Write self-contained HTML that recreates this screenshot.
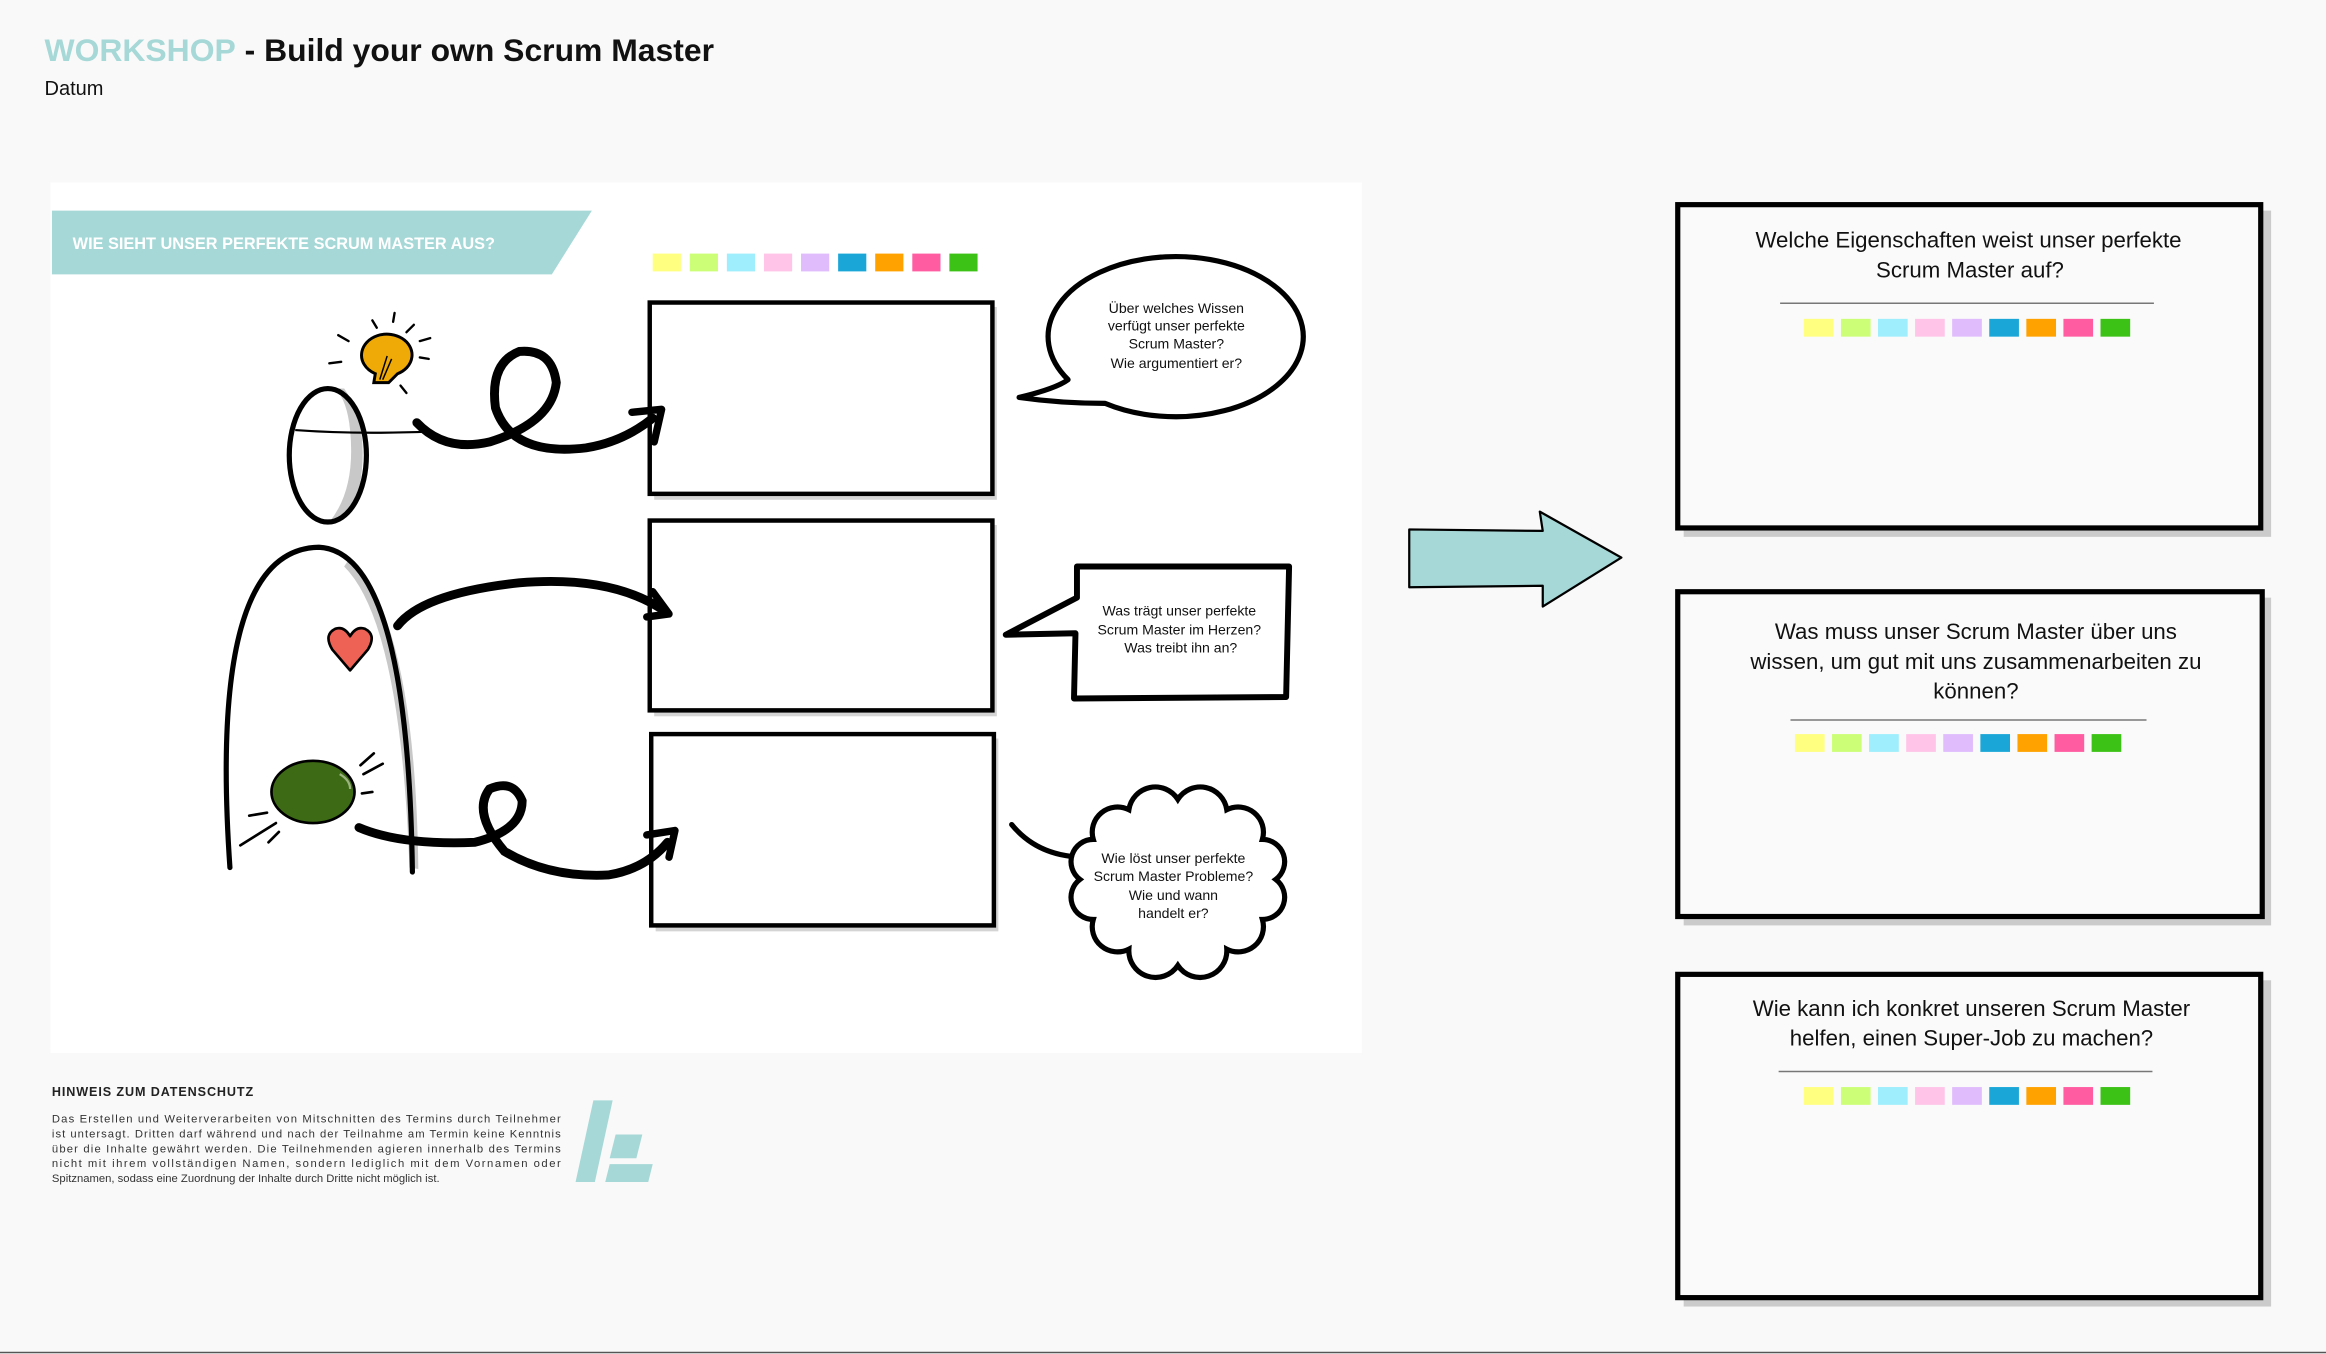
<!DOCTYPE html>
<html><head><meta charset="utf-8"><style>
html,body{margin:0;padding:0;background:#f9f9f9;}
svg{display:block;}
text{font-family:"Liberation Sans",sans-serif;}
</style></head><body>
<svg width="2326" height="1354" viewBox="0 0 1568 913" preserveAspectRatio="none" xmlns="http://www.w3.org/2000/svg">
<defs>
<g id="sq">
<rect x="0" y="0" width="20" height="12" fill="#ffff80"/>
<rect x="25" y="0" width="20" height="12" fill="#ccff77"/>
<rect x="50" y="0" width="20" height="12" fill="#9eeefd"/>
<rect x="75" y="0" width="20" height="12" fill="#ffc4e8"/>
<rect x="100" y="0" width="20" height="12" fill="#e0bcfc"/>
<rect x="125" y="0" width="20" height="12" fill="#1aa7d8"/>
<rect x="150" y="0" width="20" height="12" fill="#ffa200"/>
<rect x="175" y="0" width="20" height="12" fill="#ff5ca1"/>
<rect x="200" y="0" width="20" height="12" fill="#3cc216"/>
</g>
</defs>
<rect x="0" y="0" width="1568" height="913" fill="#f9f9f9"/>
<text x="30" y="41" font-size="21.5" font-weight="bold" fill="#a6d8d7">WORKSHOP<tspan fill="#111"> - Build your own Scrum Master</tspan></text>
<text x="30" y="64" font-size="13.5" fill="#111">Datum</text>

<rect x="34" y="123" width="884" height="587" fill="#ffffff"/>
<polygon points="35,142 399,142 372,185 35,185" fill="#a6d8d7"/>
<text x="49" y="168" font-size="11" font-weight="bold" fill="#fff">WIE SIEHT UNSER PERFEKTE SCRUM MASTER AUS?</text>

<g>
<rect x="440" y="171" width="19" height="12" fill="#ffff80"/>
<rect x="465" y="171" width="19" height="12" fill="#ccff77"/>
<rect x="490" y="171" width="19" height="12" fill="#9eeefd"/>
<rect x="515" y="171" width="19" height="12" fill="#ffc4e8"/>
<rect x="540" y="171" width="19" height="12" fill="#e0bcfc"/>
<rect x="565" y="171" width="19" height="12" fill="#1aa7d8"/>
<rect x="590" y="171" width="19" height="12" fill="#ffa200"/>
<rect x="615" y="171" width="19" height="12" fill="#ff5ca1"/>
<rect x="640" y="171" width="19" height="12" fill="#3cc216"/>
</g>

<g fill="none">
<rect x="441" y="207" width="231" height="130" fill="#d4d4d4" stroke="none"/>
<rect x="438" y="204" width="231" height="129" fill="#fff" stroke="#000" stroke-width="3"/>
<rect x="441" y="354" width="231" height="129" fill="#d4d4d4" stroke="none"/>
<rect x="438" y="351" width="231" height="128" fill="#fff" stroke="#000" stroke-width="3"/>
<rect x="442" y="498" width="231" height="130" fill="#d4d4d4" stroke="none"/>
<rect x="439" y="495" width="231" height="129" fill="#fff" stroke="#000" stroke-width="3"/>
</g>

<path d="M745,272 Q715,272 687,268 Q712,262 720,256 A86,54 0 1 1 745,272 Z" fill="#fff" stroke="#000" stroke-width="3.5" stroke-linejoin="round"/>
<g font-size="9.5" text-anchor="middle" fill="#111">
<text x="793" y="211">Über welches Wissen</text>
<text x="793" y="223">verfügt unser perfekte</text>
<text x="793" y="235">Scrum Master?</text>
<text x="793" y="248">Wie argumentiert er?</text>
</g>

<path d="M726,382 L869,382 L867,470 L724,471 L725,427 L678,428 L726,403 Z" fill="#fff" stroke="#000" stroke-width="4" stroke-linejoin="round"/>
<g font-size="9.5" text-anchor="middle" fill="#111">
<text x="795" y="415">Was trägt unser perfekte</text>
<text x="795" y="428">Scrum Master im Herzen?</text>
<text x="796" y="440">Was treibt ihn an?</text>
</g>

<path d="M682,556 Q700,578 732,578" fill="none" stroke="#000" stroke-width="3.5" stroke-linecap="round"/>
<path d="M860,593 A15,15 0 0 0 851,566 A17,17 0 0 0 827,546 A18,18 0 0 0 794,539 A18,18 0 0 0 761,546 A17,17 0 0 0 737,566 A15,15 0 0 0 728,593 A15,15 0 0 0 737,620 A17,17 0 0 0 761,640 A18,18 0 0 0 794,651 A18,18 0 0 0 827,640 A17,17 0 0 0 851,620 A15,15 0 0 0 860,593 Z" fill="#fff" stroke="#000" stroke-width="3.5"/>
<g font-size="9.5" text-anchor="middle" fill="#111">
<text x="791" y="582">Wie löst unser perfekte</text>
<text x="791" y="594">Scrum Master Probleme?</text>
<text x="791" y="607">Wie und wann</text>
<text x="791" y="619">handelt er?</text>
</g>

<path d="M232,262 Q252,290 240,340 Q230,350 222,352 Q240,330 236,290 Q234,270 226,262 Z" fill="#c8c8c8"/>
<ellipse cx="221" cy="307" rx="26" ry="45" fill="none" stroke="#000" stroke-width="3.5"/>
<path d="M199,290 Q240,293 290,291" fill="none" stroke="#000" stroke-width="1.5"/>
<g stroke="#000" stroke-width="1.6" stroke-linecap="round">
<line x1="235" y1="230" x2="228" y2="226"/><line x1="230" y1="244" x2="222" y2="245"/>
<line x1="251" y1="216" x2="254" y2="221"/><line x1="266" y1="211" x2="265" y2="217"/>
<line x1="279" y1="219" x2="274" y2="224"/><line x1="283" y1="230" x2="290" y2="228"/>
<line x1="283" y1="241" x2="289" y2="242"/><line x1="270" y1="260" x2="274" y2="265"/>
</g>
<path d="M244,237 A17,14 0 1 1 268,252 L262,258 L252,258 L253,252 A17,14 0 0 1 244,237 Z" fill="#efaa08" stroke="#000" stroke-width="2"/>
<path d="M256,256 L261,240 M258,256 L264,242" stroke="#000" stroke-width="1"/>
<path d="M281,285 Q300,305 330,298 Q372,285 375,258 Q372,235 350,237 Q330,245 334,275 Q345,308 395,302 Q420,298 440,282" fill="none" stroke="#000" stroke-width="6" stroke-linecap="round"/>
<path d="M426,278 L446,276 L441,298" fill="none" stroke="#000" stroke-width="5" stroke-linecap="round" stroke-linejoin="round"/>

<path d="M232,382 Q270,420 276,585 L282,586 Q280,420 236,376 Z" fill="#c8c8c8"/>
<path d="M155,585 Q140,370 215,369 Q275,372 278,588" fill="none" stroke="#000" stroke-width="3.5" stroke-linecap="round"/>
<path d="M236,452 L224,438 Q218,428 226,424 Q232,422 236,429 Q240,422 246,424 Q254,428 248,438 Z" fill="#ee6255" stroke="#000" stroke-width="1.8" stroke-linejoin="round"/>
<path d="M268,422 Q285,400 350,393 Q410,388 445,410" fill="none" stroke="#000" stroke-width="6" stroke-linecap="round"/>
<path d="M440,399 L451,414 L436,416" fill="none" stroke="#000" stroke-width="5" stroke-linecap="round" stroke-linejoin="round"/>
<ellipse cx="211" cy="534" rx="28" ry="21" fill="#3d6a14" stroke="#000" stroke-width="1.8"/>
<path d="M229,522 Q236,526 236,532" fill="none" stroke="#9bb380" stroke-width="1.5"/>
<g stroke="#000" stroke-width="1.8" stroke-linecap="round">
<line x1="243" y1="516" x2="252" y2="508"/><line x1="245" y1="522" x2="258" y2="515"/>
<line x1="244" y1="535" x2="251" y2="534"/><line x1="180" y1="548" x2="168" y2="550"/>
<line x1="186" y1="555" x2="162" y2="570"/><line x1="188" y1="561" x2="181" y2="568"/>
</g>
<path d="M242,558 Q270,570 320,568 Q352,560 352,540 Q346,525 330,532 Q318,548 340,574 Q370,592 410,590 Q435,586 450,568" fill="none" stroke="#000" stroke-width="6" stroke-linecap="round"/>
<path d="M436,563 L455,560 L451,578" fill="none" stroke="#000" stroke-width="5" stroke-linecap="round" stroke-linejoin="round"/>

<polygon points="950,357 1040,358 1038,345 1093,376 1040,409 1040,395 950,396" fill="#a6d8d7" stroke="#000" stroke-width="1.5" stroke-linejoin="round"/>

<g>
<rect x="1135" y="142" width="396" height="220" fill="#cbcbcb"/>
<rect x="1131" y="138" width="393" height="218" fill="#fafafa" stroke="#000" stroke-width="3.5"/>
<rect x="1135" y="403" width="396" height="221" fill="#cbcbcb"/>
<rect x="1131" y="399" width="394" height="219" fill="#fafafa" stroke="#000" stroke-width="3.5"/>
<rect x="1135" y="661" width="396" height="220" fill="#cbcbcb"/>
<rect x="1131" y="657" width="393" height="218" fill="#fafafa" stroke="#000" stroke-width="3.5"/>
</g>
<g font-size="15" text-anchor="middle" fill="#111">
<text x="1327" y="167">Welche Eigenschaften weist unser perfekte</text>
<text x="1328" y="187">Scrum Master auf?</text>
<text x="1332" y="431">Was muss unser Scrum Master über  uns</text>
<text x="1332" y="451">wissen, um gut mit uns zusammenarbeiten zu</text>
<text x="1332" y="471">können?</text>
<text x="1329" y="685">Wie kann ich konkret unseren Scrum Master</text>
<text x="1329" y="705">helfen, einen Super-Job zu machen?</text>
</g>
<line x1="1200" y1="204.5" x2="1452" y2="204.5" stroke="#777" stroke-width="1"/>
<line x1="1207" y1="485.5" x2="1447" y2="485.5" stroke="#777" stroke-width="1"/>
<line x1="1199" y1="722.5" x2="1451" y2="722.5" stroke="#777" stroke-width="1"/>
<use href="#sq" x="1216" y="215"/>
<use href="#sq" x="1210" y="495"/>
<use href="#sq" x="1216" y="733"/>

<text x="35" y="739" font-size="8.5" font-weight="bold" fill="#222" letter-spacing="0.6">HINWEIS  ZUM  DATENSCHUTZ</text>
<g font-size="7.6" fill="#333">
<text x="35" y="757" textLength="343" lengthAdjust="spacing">Das Erstellen und Weiterverarbeiten von Mitschnitten des Termins durch Teilnehmer</text>
<text x="35" y="767" textLength="343" lengthAdjust="spacing">ist untersagt. Dritten darf während und nach der Teilnahme am Termin keine Kenntnis</text>
<text x="35" y="777" textLength="343" lengthAdjust="spacing">über die Inhalte gewährt werden. Die Teilnehmenden agieren innerhalb des Termins</text>
<text x="35" y="787" textLength="343" lengthAdjust="spacing">nicht mit ihrem vollständigen Namen, sondern lediglich mit dem Vornamen oder</text>
<text x="35" y="797">Spitznamen, sodass eine Zuordnung der Inhalte durch Dritte nicht möglich ist.</text>
</g>
<g fill="#a6d8d7">
<polygon points="400,742 413,742 401,797 388,797"/>
<polygon points="415,765 433,765 429,781 411,781"/>
<polygon points="411,785 440,785 437,797 408,797"/>
</g>
<line x1="0" y1="912" x2="1568" y2="912" stroke="#555" stroke-width="1"/>
</svg>
</body></html>
